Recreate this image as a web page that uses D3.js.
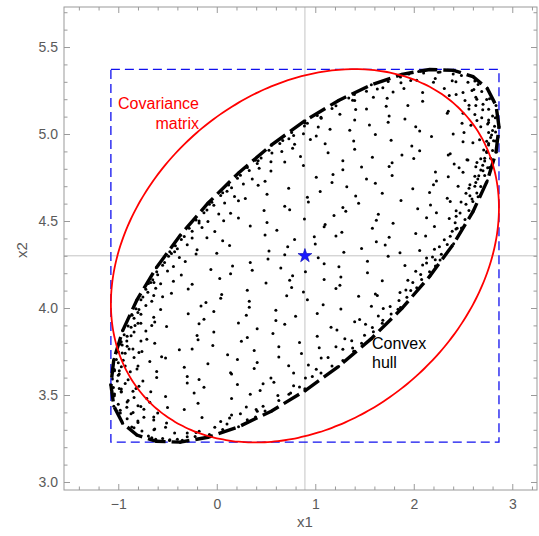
<!DOCTYPE html>
<html>
<head>
<meta charset="utf-8">
<script src="https://cdn.jsdelivr.net/npm/d3@7"></script>
<style>
  body { margin: 0; background: #fff; }
  text { font-family: "Liberation Sans", Arial, sans-serif; }
</style>
</head>
<body>
<div id="container"></div>
<script>
/* CONSTANTS AND GLOBALS */
const width = 539;
const height = 536;
const frame = { left: 64, right: 537, top: 7, bottom: 490 };

/* DATA */
const xDomain = [-1.551, 3.251];
const yDomain = [2.954, 5.730];
const xTicks = [-1, 0, 1, 2, 3];
const yTicks = [3.0, 3.5, 4.0, 4.5, 5.0, 5.5];
const meanPoint = [0.895, 4.30];
// shape matrix of the red "covariance" ellipse
const covShape = [[3.88, 0.542], [0.542, 1.151]];

const samples = [
  [-0.62,3.245],[-0.55,3.25],[-0.48,3.238],[-0.40,3.245],[-0.30,3.26],[-0.22,3.262],[-0.66,3.255],[-0.35,3.24],
  [-0.84,3.312],[-0.76,3.293],[-0.63,3.305],[-0.52,3.314],[-0.30,3.281],[-0.21,3.284],[-0.02,3.315],[0.06,3.302],
  [-0.91,3.363],[-0.80,3.342],[-0.74,3.372],[-0.64,3.356],[-0.51,3.339],[-0.15,3.371],[0.04,3.347],[0.13,3.368],[0.31,3.358],
  [-0.98,3.412],[-0.87,3.392],[-0.74,3.418],[-0.60,3.397],[-0.33,3.417],[0.15,3.385],[0.24,3.392],[0.40,3.417],[0.49,3.408],
  [-1.00,3.447],[-0.90,3.468],[-0.80,3.438],[-0.68,3.459],[-0.50,3.428],[-0.19,3.452],[0.30,3.431],[0.47,3.436],[0.63,3.468],
  [-1.04,3.496],[-0.97,3.517],[-0.84,3.486],[-0.67,3.518],[-0.52,3.492],[-0.23,3.512],[0.15,3.480],[0.34,3.504],[0.44,3.526],[0.62,3.497],[0.75,3.512],
  [-1.05,3.543],[-0.93,3.566],[-0.99,3.537],[-0.82,3.537],[-0.30,3.569],[-0.13,3.544],[0.21,3.560],[0.47,3.564],[0.58,3.574],[0.78,3.553],[0.84,3.546],
  [-1.06,3.592],[-1.00,3.613],[-0.90,3.588],[-0.75,3.581],[-0.30,3.606],[-0.18,3.589],[0.15,3.621],[0.55,3.597],[0.78,3.627],[0.97,3.606],[0.90,3.597],
  [-1.04,3.647],[-0.93,3.666],[-0.99,3.639],[-0.80,3.667],[-0.61,3.635],[-0.33,3.659],[0.14,3.628],[0.38,3.652],[0.73,3.668],[0.93,3.672],[1.01,3.648],[1.17,3.667],
  [-1.02,3.704],[-1.00,3.686],[-0.84,3.716],[-0.68,3.692],[-0.52,3.712],[-0.09,3.680],[0.21,3.704],[0.41,3.687],[0.63,3.719],[1.06,3.712],[1.13,3.715],[1.28,3.699],
  [-1.00,3.748],[-0.89,3.764],[-0.96,3.742],[-0.79,3.744],[-0.38,3.760],[-0.25,3.764],[0.11,3.731],[0.38,3.756],[0.86,3.739],[1.04,3.771],[1.21,3.778],[1.28,3.763],[1.39,3.752],
  [-0.97,3.806],[-0.96,3.787],[-0.77,3.811],[-0.63,3.797],[-0.19,3.817],[-0.04,3.785],[0.25,3.809],[0.63,3.778],[0.84,3.802],[1.30,3.823],[1.37,3.812],[1.47,3.798],
  [-0.94,3.846],[-0.84,3.862],[-0.91,3.838],[-0.72,3.868],[-0.20,3.842],[-0.03,3.862],[0.31,3.830],[0.57,3.854],[1.02,3.837],[1.22,3.874],[1.50,3.844],[1.59,3.863],
  [-0.90,3.897],[-0.80,3.913],[-0.87,3.889],[-0.63,3.919],[-0.51,3.894],[-0.18,3.910],[0.22,3.914],[0.41,3.881],[0.69,3.906],[1.16,3.889],[1.40,3.921],[1.51,3.906],[1.58,3.888],[1.68,3.912],
  [-0.86,3.958],[-0.84,3.941],[-0.77,3.964],[-0.64,3.947],[-0.29,3.967],[-0.13,3.935],[0.30,3.959],[0.60,3.928],[0.80,3.952],[1.02,3.968],[1.45,3.934],[1.64,3.954],[1.77,3.966],
  [-0.82,3.996],[-0.72,4.014],[-0.79,3.991],[-0.57,3.992],[-0.16,4.012],[-0.03,3.980],[0.33,4.004],[0.60,3.987],[1.08,4.019],[1.26,3.994],[1.57,4.010],[1.69,3.997],[1.76,4.009],[1.84,3.993],
  [-0.77,4.047],[-0.75,4.063],[-0.66,4.039],[-0.55,4.064],[-0.11,4.031],[0.04,4.056],[0.33,4.039],[0.71,4.071],[0.92,4.047],[1.44,4.067],[1.63,4.072],[1.85,4.043],[1.93,4.062],
  [-0.72,4.108],[-0.70,4.091],[-0.62,4.114],[-0.46,4.085],[-0.29,4.109],[0.05,4.078],[0.31,4.102],[0.76,4.118],[0.88,4.092],[1.21,4.112],[1.61,4.080],[1.86,4.089],[1.92,4.104],[2.03,4.116],
  [-0.67,4.146],[-0.65,4.163],[-0.57,4.139],[-0.44,4.154],[-0.25,4.137],[0.03,4.169],[0.50,4.144],[0.74,4.160],[1.09,4.164],[1.25,4.131],[1.68,4.156],[1.94,4.159],[1.99,4.147],[2.08,4.164],
  [-0.61,4.208],[-0.60,4.191],[-0.50,4.213],[-0.36,4.189],[-0.06,4.221],[0.14,4.197],[0.36,4.217],[0.77,4.185],[0.90,4.209],[1.26,4.178],[1.53,4.202],[2.02,4.211],[2.07,4.193],[2.16,4.209],
  [-0.55,4.246],[-0.53,4.262],[-0.44,4.239],[-0.32,4.268],[0.16,4.242],[0.34,4.262],[0.65,4.230],[1.09,4.254],[1.24,4.237],[1.53,4.269],[1.91,4.244],[2.09,4.247],[2.13,4.259],[2.22,4.242],
  [-0.49,4.297],[-0.46,4.313],[-0.38,4.290],[-0.21,4.310],[0.00,4.314],[0.52,4.281],[0.69,4.306],[1.03,4.289],[1.29,4.321],[1.74,4.297],[1.86,4.317],[2.13,4.288],[2.19,4.293],[2.28,4.309],
  [-0.42,4.358],[-0.40,4.341],[-0.30,4.363],[-0.20,4.335],[0.13,4.359],[0.53,4.328],[0.72,4.352],[1.00,4.368],[1.47,4.342],[1.71,4.362],[2.06,4.330],[2.21,4.338],[2.26,4.352],[2.34,4.365],
  [-0.36,4.394],[-0.33,4.411],[-0.25,4.402],[-0.10,4.404],[0.06,4.387],[0.49,4.419],[0.79,4.394],[0.99,4.410],[1.21,4.414],[1.62,4.381],[1.75,4.406],[2.12,4.414],[2.31,4.392],[2.37,4.412],
  [-0.28,4.458],[-0.25,4.441],[-0.15,4.463],[-0.02,4.439],[0.34,4.471],[0.61,4.447],[1.09,4.467],[1.27,4.435],[1.58,4.459],[2.02,4.428],[2.21,4.469],[2.39,4.441],[2.44,4.459],
  [-0.21,4.506],[-0.18,4.489],[-0.09,4.497],[0.07,4.502],[0.22,4.518],[0.51,4.492],[0.89,4.512],[1.10,4.480],[1.62,4.504],[1.79,4.487],[2.13,4.519],[2.36,4.514],[2.42,4.490],[2.52,4.509],
  [-0.13,4.547],[-0.10,4.563],[0.02,4.541],[0.14,4.544],[0.48,4.560],[0.74,4.564],[1.19,4.531],[1.31,4.556],[1.64,4.539],[2.04,4.571],[2.23,4.547],[2.43,4.559],[2.47,4.546],[2.56,4.561],
  [-0.05,4.608],[-0.03,4.591],[0.08,4.603],[0.22,4.617],[0.69,4.585],[0.93,4.609],[1.28,4.578],[1.44,4.602],[1.87,4.618],[2.17,4.592],[2.37,4.612],[2.48,4.609],[2.53,4.597],[2.60,4.612],
  [0.04,4.646],[0.06,4.662],[0.18,4.641],[0.29,4.630],[0.51,4.654],[0.92,4.637],[1.05,4.669],[1.41,4.644],[1.68,4.660],[2.16,4.664],[2.34,4.631],[2.53,4.659],[2.57,4.645],[2.64,4.661],
  [0.12,4.707],[0.15,4.691],[0.27,4.713],[0.42,4.706],[0.73,4.689],[1.17,4.721],[1.32,4.697],[1.61,4.717],[1.99,4.685],[2.20,4.709],[2.57,4.708],[2.63,4.722],[2.68,4.698],
  [0.21,4.746],[0.24,4.763],[0.36,4.741],[0.49,4.728],[1.01,4.752],[1.18,4.768],[1.52,4.742],[1.78,4.762],[2.23,4.730],[2.35,4.754],[2.62,4.757],[2.65,4.741],[2.72,4.762],
  [0.31,4.808],[0.33,4.791],[0.43,4.803],[0.55,4.787],[0.88,4.819],[1.28,4.794],[1.47,4.810],[1.75,4.814],[2.22,4.781],[2.46,4.806],[2.63,4.812],[2.68,4.793],[2.75,4.806],
  [0.42,4.846],[0.45,4.862],[0.55,4.841],[0.69,4.839],[0.85,4.871],[1.28,4.847],[1.58,4.867],[1.78,4.835],[2.00,4.859],[2.41,4.828],[2.54,4.852],[2.68,4.858],[2.72,4.845],[2.78,4.861],
  [0.53,4.907],[0.56,4.891],[0.66,4.899],[0.77,4.918],[1.13,4.892],[1.40,4.912],[1.88,4.880],[2.06,4.904],[2.37,4.887],[2.71,4.908],[2.74,4.894],[2.80,4.905],
  [0.64,4.946],[0.67,4.963],[0.79,4.941],[0.95,4.969],[1.10,4.944],[1.39,4.960],[1.77,4.964],[1.98,4.931],[2.50,4.956],[2.74,4.959],[2.76,4.946],[2.81,4.962],
  [0.76,5.008],[0.78,4.991],[0.88,5.002],[1.01,4.989],[1.35,5.021],[1.61,4.997],[2.06,5.017],[2.18,4.985],[2.51,5.009],[2.76,5.009],[2.79,4.994],[2.83,5.011],
  [0.89,5.046],[0.92,5.062],[1.03,5.041],[1.15,5.028],[1.55,5.052],[1.74,5.068],[2.02,5.042],[2.49,5.062],[2.68,5.042],[2.75,5.058],[2.82,5.045],
  [1.02,5.107],[1.06,5.091],[1.25,5.113],[1.40,5.080],[1.75,5.104],[1.91,5.087],[2.34,5.119],[2.62,5.112],[2.69,5.093],[2.80,5.104],
  [1.17,5.146],[1.21,5.162],[1.41,5.141],[1.52,5.144],[1.72,5.160],[1.94,5.164],[2.35,5.131],[2.56,5.144],[2.63,5.164],[2.76,5.142],
  [1.34,5.207],[1.40,5.192],[1.59,5.212],[1.73,5.206],[2.09,5.189],[2.36,5.221],[2.52,5.192],[2.63,5.212],[2.74,5.199],
  [1.52,5.246],[1.63,5.258],[1.79,5.241],[1.90,5.262],[2.09,5.238],[2.31,5.261],[2.50,5.238],[2.61,5.256],[2.69,5.245],
  [1.74,5.302],[1.87,5.294],[2.03,5.309],[2.20,5.297],[2.39,5.306],[2.55,5.298],[2.62,5.304],
  [1.95,5.345],[2.10,5.35],[2.25,5.355],[2.40,5.345],[2.05,5.36],
  // outer boundary
  [2.865,5.041],[2.835,5.164],[2.746,5.262],[2.601,5.330],[2.404,5.366],[2.161,5.371],[1.880,5.343],[1.569,5.283],[1.237,5.193],
  [0.895,5.076],[0.553,4.936],[0.221,4.776],[-0.090,4.602],[-0.371,4.418],[-0.614,4.231],[-0.811,4.046],[-0.956,3.869],[-1.045,3.705],
  [-1.075,3.559],[-1.045,3.436],[-0.956,3.338],[-0.811,3.270],[-0.614,3.234],[-0.371,3.229],[-0.090,3.257],[0.221,3.317],[0.553,3.407],
  [0.895,3.524],[1.237,3.664],[1.569,3.824],[1.880,3.998],[2.161,4.182],[2.404,4.369],[2.601,4.554],[2.746,4.731],[2.835,4.895],
  // near the rim
  [2.759,5.066],[-0.969,3.534],[2.703,5.171],[-0.913,3.429],[2.591,5.250],[-0.801,3.350],[2.428,5.300],[-0.638,3.300],
  [2.218,5.319],[-0.428,3.281],[1.969,5.308],[-0.179,3.292],[1.686,5.266],[0.104,3.334],[1.379,5.194],[0.411,3.406],
  [1.058,5.096],[0.732,3.504],[0.732,4.973],[1.058,3.627],[0.411,4.830],[1.379,3.770],[0.104,4.671],[1.686,3.929],
  [-0.179,4.500],[1.969,4.100],[-0.428,4.324],[2.218,4.277],[-0.638,4.146],[2.428,4.454],[-0.801,3.974],[2.591,4.627],
  [-0.913,3.811],[2.703,4.789],[-0.969,3.663],[2.759,4.937],
  [2.828,5.094],[-1.038,3.506],[2.769,5.203],[-0.979,3.397],[2.653,5.285],[-0.863,3.316],[2.484,5.337],[-0.694,3.264],
  [2.828,4.960],[-1.038,3.640],[2.769,4.807],[-0.979,3.793],[2.653,4.639],[-0.863,3.962],[2.484,4.460],[-0.694,4.141],
  [2.267,5.357],[-0.477,3.243],[2.267,4.276],[-0.477,4.324],[1.865,5.327],[-0.075,3.273],[1.865,4.003],[-0.075,4.597],
  [1.397,5.227],[0.393,3.373],[1.397,3.751],[0.393,4.849],[0.895,5.064],[0.895,3.536],
  [2.668,4.967],[-0.878,3.633],[2.641,5.078],[-0.851,3.522],[2.561,5.166],[-0.771,3.434],[2.641,4.836],[-0.851,3.765],
  [2.561,4.688],[-0.771,3.912],[2.430,5.227],[-0.640,3.373],[2.430,4.528],[-0.640,4.072],
  // dense ends
  [2.72,4.86],[2.74,4.90],[2.70,4.82],[2.66,4.76],[2.62,4.70],[2.78,4.98],[2.80,5.02],[2.76,5.08],[2.70,5.14],[2.64,5.20],
  [-0.93,3.74],[-0.95,3.70],[-0.91,3.78],[-0.87,3.84],[-0.83,3.90],[-0.99,3.62],[-1.01,3.58],[-0.97,3.52],[-0.91,3.46],[-0.85,3.40],
  [2.55,4.85],[2.60,4.95],[2.50,4.78],[2.45,4.70],[2.58,5.05],[2.50,5.12],[2.40,5.00],[2.35,4.88],
  [-0.76,3.75],[-0.81,3.65],[-0.71,3.82],[-0.66,3.90],[-0.79,3.55],[-0.71,3.48],[-0.61,3.60],[-0.56,3.72]
];

/* SCALES */
const xScale = d3.scaleLinear().domain(xDomain).range([frame.left, frame.right]);
const yScale = d3.scaleLinear().domain(yDomain).range([frame.bottom, frame.top]);

const svg = d3.select("#container")
  .append("svg")
  .attr("width", width)
  .attr("height", height);

const plot = svg.append("g");

// grid lines through the mean
plot.append("line")
  .attr("x1", xScale(meanPoint[0])).attr("x2", xScale(meanPoint[0]))
  .attr("y1", frame.top).attr("y2", frame.bottom)
  .attr("stroke", "#c4c4c4").attr("stroke-width", 1);
plot.append("line")
  .attr("x1", frame.left).attr("x2", frame.right)
  .attr("y1", yScale(meanPoint[1])).attr("y2", yScale(meanPoint[1]))
  .attr("stroke", "#c4c4c4").attr("stroke-width", 1);

// points
plot.selectAll(".pt")
  .data(samples)
  .join("circle")
  .attr("class", "pt")
  .attr("cx", d => xScale(d[0]))
  .attr("cy", d => yScale(d[1]))
  .attr("r", 1.5)
  .attr("fill", "#000");

// bounding box of the data
const xExt = d3.extent(samples, d => d[0]);
const yExt = d3.extent(samples, d => d[1]);
plot.append("rect")
  .attr("x", xScale(xExt[0]))
  .attr("y", yScale(yExt[1]))
  .attr("width", xScale(xExt[1]) - xScale(xExt[0]))
  .attr("height", yScale(yExt[0]) - yScale(yExt[1]))
  .attr("fill", "none")
  .attr("stroke", "#1010ee")
  .attr("stroke-width", 1.3)
  .attr("stroke-dasharray", "9,5");

// convex hull
const hull = d3.polygonHull(samples.map(d => [xScale(d[0]), yScale(d[1])]));
plot.append("path")
  .attr("d", d3.line().curve(d3.curveLinearClosed)(hull))
  .attr("fill", "none")
  .attr("stroke", "#000")
  .attr("stroke-width", 3.4)
  .attr("stroke-dasharray", "18,6");

// covariance ellipse
const l11 = Math.sqrt(covShape[0][0]);
const l21 = covShape[1][0] / l11;
const l22 = Math.sqrt(covShape[1][1] - l21 * l21);
const ellipsePts = d3.range(0, 360, 2).map(a => {
  const t = a * Math.PI / 180;
  return [xScale(meanPoint[0] + l11 * Math.cos(t)),
          yScale(meanPoint[1] + l21 * Math.cos(t) + l22 * Math.sin(t))];
});
plot.append("path")
  .attr("d", d3.line().curve(d3.curveCardinalClosed)(ellipsePts))
  .attr("fill", "none")
  .attr("stroke", "#ff0000")
  .attr("stroke-width", 1.8);

// mean star
plot.append("path")
  .attr("d", d3.symbol(d3.symbolStar, 60)())
  .attr("transform", `translate(${xScale(meanPoint[0])},${yScale(meanPoint[1])})`)
  .attr("fill", "#1a1aff")
  .attr("stroke", "#0000b0")
  .attr("stroke-width", 0.6);

// labels
const covLabel = svg.append("text")
  .attr("fill", "#ff0000").attr("font-size", 16).attr("text-anchor", "end");
covLabel.append("tspan").attr("x", 199).attr("y", 109).text("Covariance");
covLabel.append("tspan").attr("x", 199).attr("y", 129).text("matrix");

const hullLabel = svg.append("text")
  .attr("fill", "#000").attr("font-size", 16);
hullLabel.append("tspan").attr("x", 372).attr("y", 349).text("Convex");
hullLabel.append("tspan").attr("x", 372).attr("y", 368).text("hull");

/* FRAME AND TICKS */
const frameColor = "#9a9a9a";
const labelColor = "#5a5a5a";

svg.append("rect")
  .attr("x", frame.left).attr("y", frame.top)
  .attr("width", frame.right - frame.left)
  .attr("height", frame.bottom - frame.top)
  .attr("fill", "none").attr("stroke", frameColor).attr("stroke-width", 1);

const xMinor = d3.range(-14, 33, 2).map(v => v / 10).filter(v => !xTicks.includes(v));
const yMinor = d3.range(30, 58).map(v => v / 10).filter(v => !yTicks.includes(v));

const xAxisBottom = d3.axisBottom(xScale).tickValues(xTicks)
  .tickFormat(d => d < 0 ? "\u2212" + Math.abs(d) : d).tickSizeInner(-6).tickSizeOuter(0).tickPadding(9);
const xAxisBottomMinor = d3.axisBottom(xScale).tickValues(xMinor).tickFormat("").tickSizeInner(-3.5).tickSizeOuter(0);
const xAxisTop = d3.axisTop(xScale).tickValues(xTicks).tickFormat("").tickSizeInner(-6).tickSizeOuter(0);
const xAxisTopMinor = d3.axisTop(xScale).tickValues(xMinor).tickFormat("").tickSizeInner(-3.5).tickSizeOuter(0);

const yAxisLeft = d3.axisLeft(yScale).tickValues(yTicks)
  .tickFormat(d3.format(".1f")).tickSizeInner(-6).tickSizeOuter(0).tickPadding(6);
const yAxisLeftMinor = d3.axisLeft(yScale).tickValues(yMinor).tickFormat("").tickSizeInner(-3.5).tickSizeOuter(0);
const yAxisRight = d3.axisRight(yScale).tickValues(yTicks).tickFormat("").tickSizeInner(-6).tickSizeOuter(0);
const yAxisRightMinor = d3.axisRight(yScale).tickValues(yMinor).tickFormat("").tickSizeInner(-3.5).tickSizeOuter(0);

function styleAxis(g) {
  g.select(".domain").remove();
  g.selectAll(".tick line").attr("stroke", frameColor);
  g.selectAll(".tick text").attr("fill", labelColor).style("font-size", "14px")
    .style("font-family", "'Liberation Sans', Arial, sans-serif");
}

svg.append("g").attr("transform", `translate(0,${frame.bottom})`).call(xAxisBottom).call(styleAxis);
svg.append("g").attr("transform", `translate(0,${frame.bottom})`).call(xAxisBottomMinor).call(styleAxis);
svg.append("g").attr("transform", `translate(0,${frame.top})`).call(xAxisTop).call(styleAxis);
svg.append("g").attr("transform", `translate(0,${frame.top})`).call(xAxisTopMinor).call(styleAxis);
svg.append("g").attr("transform", `translate(${frame.left},0)`).call(yAxisLeft).call(styleAxis);
svg.append("g").attr("transform", `translate(${frame.left},0)`).call(yAxisLeftMinor).call(styleAxis);
svg.append("g").attr("transform", `translate(${frame.right},0)`).call(yAxisRight).call(styleAxis);
svg.append("g").attr("transform", `translate(${frame.right},0)`).call(yAxisRightMinor).call(styleAxis);

// axis titles
svg.append("text")
  .attr("x", 305).attr("y", 527)
  .attr("text-anchor", "middle")
  .attr("fill", labelColor).attr("font-size", 15)
  .text("x1");
svg.append("text")
  .attr("transform", "translate(27,250) rotate(-90)")
  .attr("text-anchor", "middle")
  .attr("fill", labelColor).attr("font-size", 15)
  .text("x2");
</script>
</body>
</html>
